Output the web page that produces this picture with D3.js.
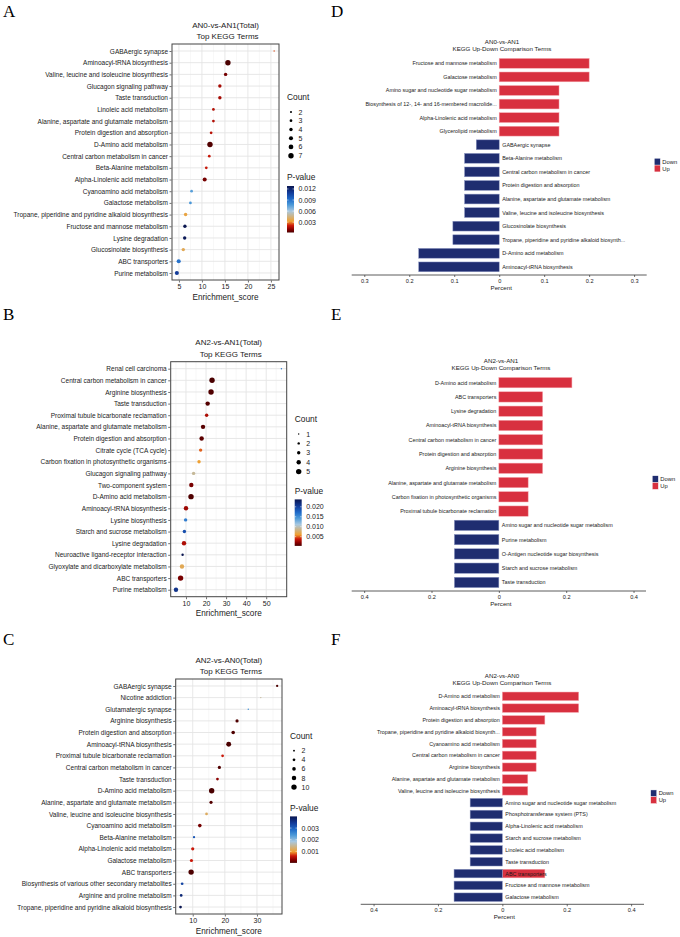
<!DOCTYPE html>
<html><head><meta charset="utf-8">
<script src="https://cdn.jsdelivr.net/npm/d3@7"></script>
<style>
body{margin:0;background:#fff}
svg{display:block}
text{font-family:'Liberation Sans',Arial,sans-serif;fill:#1a1a1a}
</style>
</head><body>
<svg id="c" width="680" height="937"></svg>
<script>
// ---------------- DATA ----------------
const A_terms = ["GABAergic synapse","Aminoacyl-tRNA biosynthesis","Valine, leucine and isoleucine biosynthesis","Glucagon signaling pathway","Taste transduction","Linoleic acid metabolism","Alanine, aspartate and glutamate metabolism","Protein digestion and absorption","D-Amino acid metabolism","Central carbon metabolism in cancer","Beta-Alanine metabolism","Alpha-Linolenic acid metabolism","Cyanoamino acid metabolism","Galactose metabolism","Tropane, piperidine and pyridine alkaloid biosynthesis","Fructose and mannose metabolism","Lysine degradation","Glucosinolate biosynthesis","ABC transporters","Purine metabolism"];
const A_score = [25.7,15.65,15.15,13.9,13.9,12.5,12.5,12.0,11.75,11.6,10.95,10.6,7.75,7.5,6.45,6.3,6.25,5.95,4.95,4.55];
const A_count = [1,7,4,4,4,3,3,3,7,3,3,5,3,3,4,4,4,4,5,5];
const A_pvalue = [0.0025,0.0002,0.0008,0.0015,0.0015,0.0017,0.0017,0.0018,0.0003,0.002,0.002,0.0008,0.0075,0.0078,0.0035,0.0128,0.0126,0.0038,0.009,0.011];
const A_ticks = [5,10,15,20,25];
const A_countBreaks = [2,3,4,5,6,7];
const A_pBreaks = [0.003,0.006,0.009,0.012];

const B_terms = ["Renal cell carcinoma","Central carbon metabolism in cancer","Arginine biosynthesis","Taste transduction","Proximal tubule bicarbonate reclamation","Alanine, aspartate and glutamate metabolism","Protein digestion and absorption","Citrate cycle (TCA cycle)","Carbon fixation in photosynthetic organisms","Glucagon signaling pathway","Two-component system","D-Amino acid metabolism","Aminoacyl-tRNA biosynthesis","Lysine biosynthesis","Starch and sucrose metabolism","Lysine degradation","Neuroactive ligand-receptor interaction","Glyoxylate and dicarboxylate metabolism","ABC transporters","Purine metabolism"];
const B_score = [57.6,23.0,22.5,20.8,20.3,18.5,17.8,17.3,16.5,13.8,12.65,12.5,10.0,9.8,9.2,9.0,8.3,8.0,7.3,5.0];
const B_count = [1,5,5,4,3,4,4,3,3,3,4,5,4,3,3,4,2,4,5,4];
const B_pvalue = [0.016,0.00035,0.0005,0.0006,0.003,0.0007,0.0008,0.005,0.006,0.009,0.0015,0.0005,0.0025,0.016,0.019,0.003,0.0237,0.007,0.0015,0.021];
const B_ticks = [10,20,30,40,50];
const B_countBreaks = [1,2,3,4,5];
const B_pBreaks = [0.005,0.010,0.015,0.020];

const C_terms = ["GABAergic synapse","Nicotine addiction","Glutamatergic synapse","Arginine biosynthesis","Protein digestion and absorption","Aminoacyl-tRNA biosynthesis","Proximal tubule bicarbonate reclamation","Central carbon metabolism in cancer","Taste transduction","D-Amino acid metabolism","Alanine, aspartate and glutamate metabolism","Valine, leucine and isoleucine biosynthesis","Cyanoamino acid metabolism","Beta-Alanine metabolism","Alpha-Linolenic acid metabolism","Galactose metabolism","ABC transporters","Biosynthesis of various other secondary metabolites","Arginine and proline metabolism","Tropane, piperidine and pyridine alkaloid biosynthesis"];
const C_score = [36.3,31.2,27.3,23.8,22.6,21.2,19.3,18.3,17.7,15.9,15.7,14.3,12.2,10.4,10.0,9.6,9.5,6.7,6.4,6.2];
const C_count = [3,1,1,5,6,9,4,5,4,10,5,4,6,3,5,5,10,4,4,4];
const C_pvalue = [0.00002,0.0015,0.0025,0.00003,0.00003,0.00001,0.0006,0.00004,0.0003,0.00001,0.00005,0.0012,0.0002,0.0031,0.0006,0.0006,0.00002,0.0033,0.0037,0.004];
const C_ticks = [10,20,30];
const C_countBreaks = [2,4,6,8,10];
const C_pBreaks = [0.001,0.002,0.003];

const D_terms = ["Fructose and mannose metabolism","Galactose metabolism","Amino sugar and nucleotide sugar metabolism","Biosynthesis of 12-, 14- and 16-membered macrolide...","Alpha-Linolenic acid metabolism","Glycerolipid metabolism","GABAergic synapse","Beta-Alanine metabolism","Central carbon metabolism in cancer","Protein digestion and absorption","Alanine, aspartate and glutamate metabolism","Valine, leucine and isoleucine biosynthesis","Glucosinolate biosynthesis","Tropane, piperidine and pyridine alkaloid biosynth...","D-Amino acid metabolism","Aminoacyl-tRNA biosynthesis"];
const D_up   = [0.2,0.2,0.133,0.133,0.133,0.133,0,0,0,0,0,0,0,0,0,0];
const D_down = [0,0,0,0,0,0,0.051,0.077,0.077,0.077,0.077,0.077,0.103,0.103,0.179,0.179];
const D_ticks = [-0.3,-0.2,-0.1,0,0.1,0.2,0.3];

const E_terms = ["D-Amino acid metabolism","ABC transporters","Lysine degradation","Aminoacyl-tRNA biosynthesis","Central carbon metabolism in cancer","Protein digestion and absorption","Arginine biosynthesis","Alanine, aspartate and glutamate metabolism","Carbon fixation in photosynthetic organisms","Proximal tubule bicarbonate reclamation","Amino sugar and nucleotide sugar metabolism","Purine metabolism","O-Antigen nucleotide sugar biosynthesis","Starch and sucrose metabolism","Taste transduction"];
const E_up   = [0.217,0.13,0.13,0.13,0.13,0.13,0.13,0.087,0.087,0.087,0,0,0,0,0];
const E_down = [0,0,0,0,0,0,0,0,0,0,0.132,0.132,0.132,0.132,0.132];
const E_ticks = [-0.4,-0.2,0,0.2,0.4];

const F_terms = ["D-Amino acid metabolism","Aminoacyl-tRNA biosynthesis","Protein digestion and absorption","Tropane, piperidine and pyridine alkaloid biosynth...","Cyanoamino acid metabolism","Central carbon metabolism in cancer","Arginine biosynthesis","Alanine, aspartate and glutamate metabolism","Valine, leucine and isoleucine biosynthesis","Amino sugar and nucleotide sugar metabolism","Phosphotransferase system (PTS)","Alpha-Linolenic acid metabolism","Starch and sucrose metabolism","Linoleic acid metabolism","Taste transduction","ABC transporters","Fructose and mannose metabolism","Galactose metabolism"];
const F_up   = [0.237,0.237,0.132,0.105,0.105,0.105,0.105,0.079,0.079,0,0,0,0,0,0,0.132,0,0];
const F_down = [0,0,0,0,0,0,0,0,0,0.1,0.1,0.1,0.1,0.1,0.1,0.15,0.15,0.15];
const F_ticks = [-0.4,-0.2,0,0.2,0.4];

const updownLabels = ["Down","Up"];

// ---------------- STYLE ----------------
const PAL = ["#4a0000","#8b0000","#cc1a0a","#f0a030","#a8c8e0","#4a98d8","#1f6ac8","#123a98","#0a1650"];
const PAL_POS = [0,0.07,0.15,0.24,0.46,0.60,0.72,0.86,1];
const RED = "#d8303f", NAVY = "#1f2d70";
const svg = d3.select("#c");
svg.append("rect").attr("width",680).attr("height",937).attr("fill","#fff");

function letter(t,x,y){
  svg.append("text").attr("x",x).attr("y",y).text(t)
    .style("font-family","'Liberation Serif','Times New Roman',serif").style("font-size","17px").style("fill","#000");
}
letter("A",3,17); letter("D",331,17);
letter("B",3,320); letter("E",331,320);
letter("C",3,645); letter("F",331,645);

function colour(ext){
  const [a,b]=ext;
  return d3.scaleLinear().domain(PAL_POS.map(p=>a+(b-a)*p)).range(PAL).clamp(true);
}

let gid=0;
function dotPanel(o){
  const g = svg.append("g");
  const ext = d3.extent(o.score), pad=(ext[1]-ext[0])*0.05;
  const x = d3.scaleLinear().domain([ext[0]-pad,ext[1]+pad]).range([o.left,o.right]);
  const y = d3.scalePoint().domain(o.terms).range([o.top,o.bottom]).padding(0.6);
  const pext = d3.extent(o.p);
  const col = colour(pext);
  const cext = d3.extent(o.count);
  const dia = d3.scaleLinear().domain(cext).range([1.4,5.4]);
  const dom = x.domain();
  const step = o.ticks[1]-o.ticks[0];
  const minors = d3.range(o.ticks[0]-step/2, dom[1], step).filter(v=>v>dom[0]&&v<dom[1]);
  g.selectAll(".mn").data(minors).join("line").attr("x1",d=>x(d)).attr("x2",d=>x(d))
    .attr("y1",o.top).attr("y2",o.bottom).attr("stroke","#f2f2f2").attr("stroke-width",0.6);
  g.selectAll(".mj").data(o.ticks).join("line").attr("x1",d=>x(d)).attr("x2",d=>x(d))
    .attr("y1",o.top).attr("y2",o.bottom).attr("stroke","#e4e4e4").attr("stroke-width",0.9);
  g.selectAll(".hj").data(o.terms).join("line").attr("y1",d=>y(d)).attr("y2",d=>y(d))
    .attr("x1",o.left).attr("x2",o.right).attr("stroke","#e4e4e4").attr("stroke-width",0.9);
  const idx = d3.range(o.terms.length);
  g.selectAll("circle.pt").data(idx).join("circle")
    .attr("cx",i=>x(o.score[i])).attr("cy",i=>y(o.terms[i]))
    .attr("r",i=>dia(o.count[i])/2).attr("fill",i=>col(o.p[i]));
  g.append("rect").attr("x",o.left).attr("y",o.top).attr("width",o.right-o.left).attr("height",o.bottom-o.top)
    .attr("fill","none").attr("stroke","#444").attr("stroke-width",1);
  const ya = d3.axisLeft(y).tickSize(2).tickPadding(1.5);
  const yg = g.append("g").attr("transform",`translate(${o.left-0.5},0)`).call(ya);
  yg.select(".domain").remove();
  yg.selectAll(".tick line").attr("stroke","#333").attr("stroke-width",0.7);
  yg.selectAll("text").style("font-size","6.5px").style("fill","#1a1a1a");
  const xa = d3.axisBottom(x).tickValues(o.ticks).tickSize(2).tickPadding(1.5);
  const xg = g.append("g").attr("transform",`translate(0,${o.bottom+0.5})`).call(xa);
  xg.select(".domain").remove();
  xg.selectAll(".tick line").attr("stroke","#333").attr("stroke-width",0.7);
  xg.selectAll("text").style("font-size","7px").style("fill","#1a1a1a");
  g.append("text").attr("x",(o.left+o.right)/2).attr("y",o.bottom+17).attr("text-anchor","middle")
    .attr("dominant-baseline","central").style("font-size","8.2px").text("Enrichment_score");
  const cx=(o.left+o.right)/2;
  g.append("text").attr("x",cx).attr("y",o.top-19).attr("text-anchor","middle").attr("dominant-baseline","central")
    .style("font-size","8px").text(o.title1);
  g.append("text").attr("x",cx+2).attr("y",o.top-7.5).attr("text-anchor","middle").attr("dominant-baseline","central")
    .style("font-size","8px").text(o.title2);
  const lx = o.right+8;
  g.append("text").attr("x",lx).attr("y",o.countY).attr("dominant-baseline","central").style("font-size","8.4px").text("Count");
  o.countBreaks.forEach((b,i)=>{
    const yy = o.countY+15+i*o.countStep;
    g.append("circle").attr("cx",lx+4).attr("cy",yy).attr("r",dia(b)/2).attr("fill","#000");
    g.append("text").attr("x",lx+11.5).attr("y",yy).attr("dominant-baseline","central").style("font-size","7px").text(b);
  });
  g.append("text").attr("x",lx).attr("y",o.pY).attr("dominant-baseline","central").style("font-size","8.4px").text("P-value");
  const id="grad"+(gid++);
  const lg = svg.append("defs").append("linearGradient").attr("id",id).attr("x1",0).attr("x2",0).attr("y1",1).attr("y2",0);
  PAL.forEach((c,i)=>lg.append("stop").attr("offset",PAL_POS[i]).attr("stop-color",c));
  const bt=o.pY+8.7, bb=bt+46.5, bw=7;
  g.append("rect").attr("x",lx).attr("y",bt).attr("width",bw).attr("height",bb-bt).attr("fill",`url(#${id})`);
  const py = d3.scaleLinear().domain(pext).range([bb,bt]);
  o.pBreaks.forEach(b=>{
    g.append("line").attr("x1",lx).attr("x2",lx+1.5).attr("y1",py(b)).attr("y2",py(b)).attr("stroke","#fff").attr("stroke-width",0.5);
    g.append("line").attr("x1",lx+bw-1.5).attr("x2",lx+bw).attr("y1",py(b)).attr("y2",py(b)).attr("stroke","#fff").attr("stroke-width",0.5);
    g.append("text").attr("x",lx+bw+4.5).attr("y",py(b)).attr("dominant-baseline","central").style("font-size","7px").text(d3.format(".3f")(b));
  });
}

dotPanel({terms:A_terms,score:A_score,count:A_count,p:A_pvalue,ticks:A_ticks,countBreaks:A_countBreaks,pBreaks:A_pBreaks,
  left:172,right:279,top:44,bottom:280,title1:"AN0-vs-AN1(Total)",title2:"Top KEGG Terms",countY:97,countStep:8.74,pY:177.3});
dotPanel({terms:B_terms,score:B_score,count:B_count,p:B_pvalue,ticks:B_ticks,countBreaks:B_countBreaks,pBreaks:B_pBreaks,
  left:170.7,right:286.7,top:361.7,bottom:596.7,title1:"AN2-vs-AN1(Total)",title2:"Top KEGG Terms",countY:419,countStep:9.4,pY:490.7});
dotPanel({terms:C_terms,score:C_score,count:C_count,p:C_pvalue,ticks:C_ticks,countBreaks:C_countBreaks,pBreaks:C_pBreaks,
  left:175.7,right:282,top:679,bottom:914,title1:"AN2-vs-AN0(Total)",title2:"Top KEGG Terms",countY:735.7,countStep:9.1,pY:807.7});

function barPanel(o){
  const g = svg.append("g");
  const x = d3.scaleLinear().domain([-o.lim,o.lim]).range([o.x0,o.x1]);
  const y = d3.scaleBand().domain(o.terms).range([o.top,o.axisY]).paddingInner(0.28).paddingOuter(0.24);
  const idx = d3.range(o.terms.length);
  const z = x(0);
  g.selectAll("text.ul").data(idx.filter(i=>o.up[i]>0)).join("text")
    .attr("x",z-2.5).attr("y",i=>y(o.terms[i])+y.bandwidth()/2).attr("text-anchor","end").attr("dominant-baseline","central")
    .style("font-size","5.4px").text(i=>o.terms[i]);
  g.selectAll("rect.up").data(idx.filter(i=>o.up[i]>0)).join("rect")
    .attr("x",z).attr("y",i=>y(o.terms[i])).attr("width",i=>x(o.up[i])-z).attr("height",y.bandwidth())
    .attr("fill",RED).attr("stroke","#f4a0a8").attr("stroke-width",0.5);
  g.selectAll("rect.dn").data(idx.filter(i=>o.down[i]>0)).join("rect")
    .attr("x",i=>x(-o.down[i])).attr("y",i=>y(o.terms[i])).attr("width",i=>z-x(-o.down[i])).attr("height",y.bandwidth())
    .attr("fill",NAVY).attr("stroke","#8a94c0").attr("stroke-width",0.5);
  g.selectAll("text.dl").data(idx.filter(i=>o.down[i]>0)).join("text")
    .attr("x",z+3).attr("y",i=>y(o.terms[i])+y.bandwidth()/2).attr("dominant-baseline","central")
    .style("font-size","5.4px").text(i=>o.terms[i]);
  const xa = d3.axisBottom(x).tickValues(o.ticks).tickSize(2).tickPadding(2).tickFormat(d=>d3.format("")(+Math.abs(d).toFixed(2)));
  const xg = g.append("g").attr("transform",`translate(0,${o.axisY})`).call(xa);
  xg.select(".domain").attr("stroke","#333").attr("stroke-width",0.8).attr("d",`M${o.x0},0H${o.x1}`);
  xg.selectAll(".tick line").attr("stroke","#333").attr("stroke-width",0.7);
  xg.selectAll("text").style("font-size","5.6px").style("fill","#1a1a1a");
  g.append("text").attr("x",(o.x0+o.x1)/2+2).attr("y",o.axisY+12).attr("text-anchor","middle").attr("dominant-baseline","central")
    .style("font-size","6.2px").text("Percent");
  g.append("text").attr("x",o.tx).attr("y",o.top-13.5).attr("text-anchor","middle").attr("dominant-baseline","central").style("font-size","6.2px").text(o.title1);
  g.append("text").attr("x",o.tx).attr("y",o.top-6.8).attr("text-anchor","middle").attr("dominant-baseline","central").style("font-size","6.2px").text("KEGG Up-Down Comparison Terms");
  const ly = (o.top+o.axisY)/2;
  [NAVY,RED].forEach((c,i)=>{
    g.append("rect").attr("x",o.lx).attr("y",ly-6.8+i*6.8).attr("width",6).attr("height",6.8).attr("fill",c).attr("stroke","#fff").attr("stroke-width",0.4);
    g.append("text").attr("x",o.lx+8).attr("y",ly-3.4+i*6.8).attr("dominant-baseline","central").style("font-size","5.8px").text(updownLabels[i]);
  });
}

barPanel({terms:D_terms,up:D_up,down:D_down,ticks:D_ticks,lim:0.328,x0:351.7,x1:646.7,top:55.2,axisY:275,title1:"AN0-vs-AN1",tx:502,lx:654.3});
barPanel({terms:E_terms,up:E_up,down:E_down,ticks:E_ticks,lim:0.437,x0:351.7,x1:646,top:374.1,axisY:591,title1:"AN2-vs-AN1",tx:501,lx:652.3});
barPanel({terms:F_terms,up:F_up,down:F_down,ticks:F_ticks,lim:0.44,x0:360.7,x1:644,top:689.2,axisY:904.3,title1:"AN2-vs-AN0",tx:502,lx:650.7});
</script>
</body></html>
